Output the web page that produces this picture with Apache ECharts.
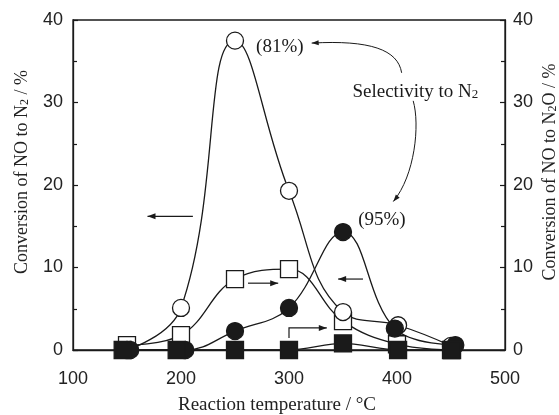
<!DOCTYPE html>
<html><head><meta charset="utf-8">
<script src="https://cdn.jsdelivr.net/npm/echarts@6/dist/echarts.min.js"></script>
<style>html,body{margin:0;padding:0;background:#fff}#c{width:559px;height:415px}</style>
</head><body><div id="c"></div>
<script>
// ---- data ----
const xTicks = [100, 200, 300, 400, 500];
const yTicks = [0, 10, 20, 30, 40];
// Conversion of NO to N2 (left axis)
const openCircleX = [150, 200, 250, 300, 350, 401, 450];
const openCircleY = [0, 5.1, 37.5, 19.3, 4.6, 3.0, 0.5];
const filledCircleX = [153, 204, 250, 300, 350, 398, 454];
const filledCircleY = [0, 0, 2.3, 5.1, 14.3, 2.6, 0.6];
// Conversion of NO to N2O (right axis)
const openSquareX = [150, 200, 250, 300, 350, 400, 450];
const openSquareY = [0.6, 1.8, 8.6, 9.8, 3.5, 0.7, 0];
const filledSquareX = [146, 196, 250, 300, 350, 401, 451];
const filledSquareY = [0, 0, 0, 0, 0.8, 0, 0];
// annotations (data coordinates)
const straightArrows = [
  [[211, 16.2], [169, 16.2]],
  [[262, 8.1], [290, 8.1]],
  [[368.5, 8.6], [345.5, 8.6]]
];
const bentArrow = [[300, 1.45], [300, 2.67], [335, 2.67]];
const noteTexts = [
  {text: '(81%)', at: [291.5, 36.7]},
  {text: '(95%)', at: [386, 15.8]},
  {text: 'Selectivity to N{s|2}', at: [417, 31.3]}
];
const curveTop = [[404.3, 33.6], [400.9, 36.4], [375, 37.6], [321, 37.2]];
const curveBottom = [[415, 30.2], [421.3, 27.3], [416.7, 21.2], [396.6, 18.0]];

const pairs = (xs, ys) => xs.map((x, i) => [x, ys[i]]);
const serif = '"Liberation Serif", "Times New Roman", serif';
const sans = '"Liberation Sans", Arial, sans-serif';
const ink = '#1a1a1a';

const chart = echarts.init(document.getElementById('c'), null, {renderer: 'canvas'});

function lineSeries(xs, ys, yIdx, smooth) {
  return {type: 'line', yAxisIndex: yIdx, data: pairs(xs, ys), smooth: smooth,
    showSymbol: false, symbol: 'none', z: 2, silent: true,
    lineStyle: {color: ink, width: 1.3}};
}
function scatterSeries(xs, ys, yIdx, symbol, fill, z) {
  return {type: 'scatter', yAxisIndex: yIdx, data: pairs(xs, ys), symbol: symbol,
    symbolSize: 17, z: z, silent: true,
    itemStyle: {color: fill, borderColor: ink, borderWidth: 1.3, opacity: 1}};
}

const yAxisCommon = {
  type: 'value', min: yTicks[0], max: yTicks[yTicks.length - 1], interval: 10,
  axisLine: {show: true, lineStyle: {color: ink, width: 1.3}},
  axisTick: {show: true, inside: true, length: 5, lineStyle: {color: ink, width: 1.2}},
  minorTick: {show: true, splitNumber: 2, length: 4, lineStyle: {color: ink, width: 1.2}},
  splitLine: {show: false},
  axisLabel: {fontFamily: sans, fontSize: 18, color: '#222'}
};

chart.setOption({
  animation: false,
  backgroundColor: '#fff',
  grid: {left: 73, right: 54, top: 20, bottom: 65, show: true, borderColor: ink, borderWidth: 1.3},
  xAxis: {
    type: 'value', min: xTicks[0], max: xTicks[xTicks.length - 1], interval: 100,
    axisLine: {show: true, onZero: false, lineStyle: {color: ink, width: 1.3}},
    axisTick: {show: false}, splitLine: {show: false},
    axisLabel: {fontFamily: sans, fontSize: 18, color: '#222', margin: 20}
  },
  yAxis: [
    Object.assign({}, yAxisCommon, {position: 'left', axisLabel: Object.assign({}, yAxisCommon.axisLabel, {margin: 10})}),
    Object.assign({}, yAxisCommon, {position: 'right', axisLabel: Object.assign({}, yAxisCommon.axisLabel, {margin: 8})})
  ],
  series: [
    lineSeries(openCircleX, openCircleY, 0, 0.45),
    lineSeries(filledCircleX, filledCircleY, 0, 0.4),
    lineSeries(openSquareX, openSquareY, 1, 0.4),
    lineSeries(filledSquareX, filledSquareY, 1, 0.3),
    scatterSeries(openSquareX, openSquareY, 1, 'rect', '#fff', 3),
    scatterSeries(openCircleX, openCircleY, 0, 'circle', '#fff', 4),
    scatterSeries(filledCircleX, filledCircleY, 0, 'circle', ink, 5),
    scatterSeries(filledSquareX, filledSquareY, 1, 'rect', ink, 6)
  ]
});

const px = p => chart.convertToPixel({xAxisIndex: 0, yAxisIndex: 0}, p);
function arrowHead(tip, from, len, half) {
  const dx = tip[0] - from[0], dy = tip[1] - from[1];
  const d = Math.hypot(dx, dy) || 1, ux = dx / d, uy = dy / d;
  const bx = tip[0] - ux * len, by = tip[1] - uy * len;
  return {type: 'polygon', z: 20, shape: {points: [tip, [bx - uy * half, by + ux * half], [bx + uy * half, by - ux * half]]},
    style: {fill: ink}};
}
const g = [];
straightArrows.forEach(a => {
  const s = px(a[0]), e = px(a[1]);
  g.push({type: 'line', z: 20, shape: {x1: s[0], y1: s[1], x2: e[0], y2: e[1]}, style: {stroke: ink, lineWidth: 1.2}});
  g.push(arrowHead(e, s, 8, 3));
});
{
  const pts = bentArrow.map(px);
  g.push({type: 'polyline', z: 20, shape: {points: pts}, style: {stroke: ink, lineWidth: 1.2, fill: null}});
  g.push(arrowHead(pts[2], pts[1], 8, 3));
}
[curveTop, curveBottom].forEach(c => {
  const p = c.map(px);
  g.push({type: 'bezierCurve', z: 20, shape: {x1: p[0][0], y1: p[0][1], cpx1: p[1][0], cpy1: p[1][1],
    cpx2: p[2][0], cpy2: p[2][1], x2: p[3][0], y2: p[3][1]}, style: {stroke: ink, lineWidth: 1, fill: null}});
  g.push(arrowHead(p[3], p[2], 7, 2.5));
});
noteTexts.forEach(t => {
  const p = px(t.at);
  g.push({type: 'text', z: 20, x: p[0], y: p[1], style: {text: t.text, fontFamily: serif, fontSize: 19, fill: ink,
    align: 'center', verticalAlign: 'middle', rich: {s: {fontFamily: serif, fontSize: 13, verticalAlign: 'bottom', fill: ink}}}});
});
// axis titles
g.push({type: 'text', z: 20, x: 277, y: 405, style: {text: 'Reaction temperature / °C', fontFamily: serif, fontSize: 19, fill: '#222',
  align: 'center', verticalAlign: 'middle'}});
g.push({type: 'text', z: 20, x: 22, y: 172, rotation: Math.PI / 2, style: {text: 'Conversion of NO to N{s|2} / %', fontFamily: serif, fontSize: 18, fill: '#222',
  align: 'center', verticalAlign: 'middle', rich: {s: {fontFamily: serif, fontSize: 12, verticalAlign: 'bottom', fill: '#222'}}}});
g.push({type: 'text', z: 20, x: 550, y: 172, rotation: Math.PI / 2, style: {text: 'Conversion of NO to N{s|2}O / %', fontFamily: serif, fontSize: 18, fill: '#222',
  align: 'center', verticalAlign: 'middle', rich: {s: {fontFamily: serif, fontSize: 12, verticalAlign: 'bottom', fill: '#222'}}}});
chart.setOption({graphic: g});
</script>
</body></html>
